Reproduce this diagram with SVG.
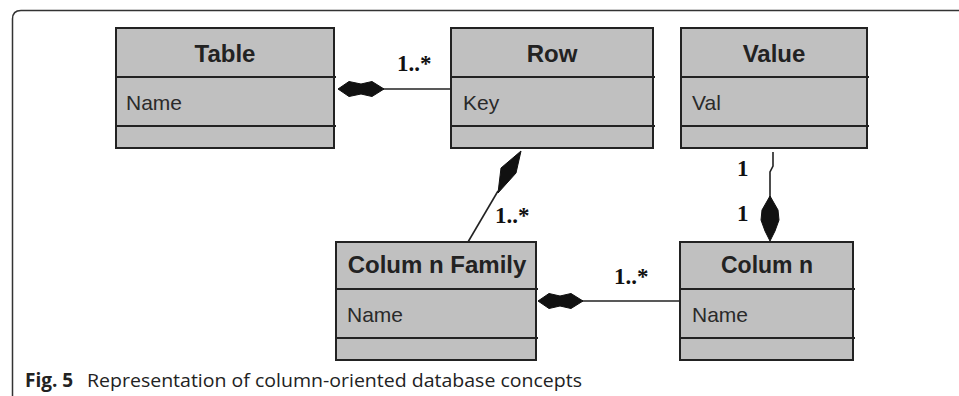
<svg xmlns="http://www.w3.org/2000/svg" width="959" height="396" viewBox="0 0 959 396">
  <style>
    .box { fill: #c0c0c0; stroke: #222; stroke-width: 2; }
    .div { stroke: #222; stroke-width: 2; }
    .title { font-family: "Liberation Sans", Arial, sans-serif; font-weight: bold; font-size: 24px; fill: #222; text-anchor: middle; }
    .attr { font-family: "Liberation Sans", Arial, sans-serif; font-size: 21px; fill: #2a2a2a; }
    .mult { font-family: "Liberation Serif", "Times New Roman", serif; font-weight: bold; font-size: 23px; fill: #111; }
    .line { stroke: #222; stroke-width: 1.6; fill: none; }
    .dia { fill: #111; stroke: #111; stroke-width: 1; }
    .cap { font-family: "Open Sans", "Noto Sans", sans-serif; font-size: 19px; fill: #222; }
  </style>
  <rect width="959" height="396" fill="#ffffff"/>
  <path d="M 12.5 396 L 12.5 19 Q 12.5 10.5 21 10.5 L 959 10.5" fill="none" stroke="#333" stroke-width="1.5"/>

  <g id="table">
    <rect class="box" x="116" y="28" width="218" height="120"/>
    <line class="div" x1="116" y1="77" x2="336" y2="77"/>
    <line class="div" x1="116" y1="126" x2="336" y2="126"/>
    <text class="title" x="225" y="62">Table</text>
    <text class="attr" x="126" y="110">Name</text>
  </g>

  <g id="row">
    <rect class="box" x="451" y="28" width="202" height="120"/>
    <line class="div" x1="451" y1="77" x2="655" y2="77"/>
    <line class="div" x1="451" y1="126" x2="655" y2="126"/>
    <text class="title" x="552" y="62">Row</text>
    <text class="attr" x="463" y="110">Key</text>
  </g>

  <g id="value">
    <rect class="box" x="681" y="28" width="186" height="120"/>
    <line class="div" x1="681" y1="77" x2="869" y2="77"/>
    <line class="div" x1="681" y1="126" x2="869" y2="126"/>
    <text class="title" x="774" y="62">Value</text>
    <text class="attr" x="692" y="110">Val</text>
  </g>

  <g id="column-family">
    <rect class="box" x="336" y="242" width="200" height="118"/>
    <line class="div" x1="336" y1="289" x2="538" y2="289"/>
    <line class="div" x1="336" y1="338" x2="538" y2="338"/>
    <text class="title" x="437" y="273">Colum n Family</text>
    <text class="attr" x="347" y="322">Name</text>
  </g>

  <g id="column">
    <rect class="box" x="680" y="242" width="173" height="118"/>
    <line class="div" x1="680" y1="289" x2="855" y2="289"/>
    <line class="div" x1="680" y1="338" x2="855" y2="338"/>
    <text class="title" x="767" y="273" textLength="92" lengthAdjust="spacingAndGlyphs">Colum n</text>
    <text class="attr" x="692" y="322">Name</text>
  </g>

  <g id="connectors">
    <!-- Table - Row -->
    <line class="line" x1="383" y1="89" x2="451" y2="89"/>
    <polygon class="dia" points="338,89 349,81.5 361,84 372,81.5 384,89 372,96.5 361,94 349,96.5"/>
    <text class="mult" x="397" y="71">1..*</text>

    <!-- Row - Column Family -->
    <line class="line" x1="468" y1="242" x2="498" y2="191"/>
    <polygon class="dia" points="521,151 516,173 498,193 501,168"/>
    <text class="mult" x="495" y="223">1..*</text>

    <!-- Value - Column -->
    <path class="line" d="M 773 152 L 773 166 L 770 172 L 770 198"/>
    <polygon class="dia" points="770,196 778,210 779,220 775,231 770,241 765,231 761,220 762,210"/>
    <text class="mult" x="737" y="176">1</text>
    <text class="mult" x="737" y="221">1</text>

    <!-- Column Family - Column -->
    <line class="line" x1="582" y1="301" x2="680" y2="301"/>
    <polygon class="dia" points="538,301 549,293.5 560,296 571,293.5 583,301 571,308.5 560,306 549,308.5"/>
    <text class="mult" x="614" y="284">1..*</text>
  </g>

  <text class="cap" x="25" y="387"><tspan font-weight="bold">Fig. 5</tspan><tspan x="87" textLength="495" lengthAdjust="spacingAndGlyphs">Representation of column-oriented database concepts</tspan></text>
</svg>
